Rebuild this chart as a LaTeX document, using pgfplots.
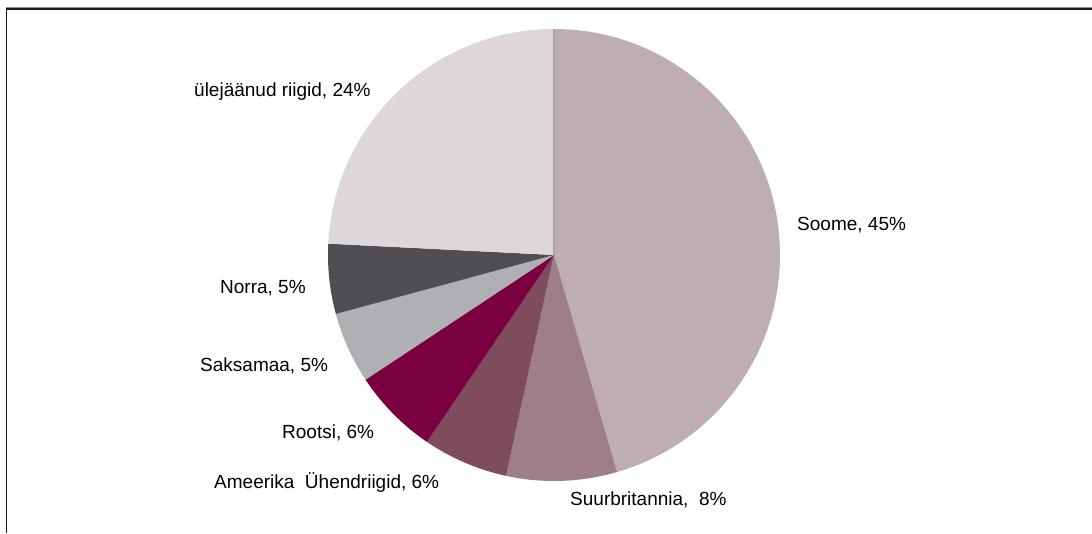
\documentclass[border=0pt]{standalone}
\usepackage{fontspec}
\setmainfont{Liberation Sans}
\usepackage{pgfplots}
\usepackage{pgfplotstable}
\pgfplotsset{compat=1.18}
\definecolor{cSoome}{HTML}{BEADB3}
\definecolor{cUK}{HTML}{9E7E88}
\definecolor{cUS}{HTML}{7F4C5E}
\definecolor{cSE}{HTML}{7B003F}
\definecolor{cDE}{HTML}{AFB0B3}
\definecolor{cNO}{HTML}{504E54}
\definecolor{cRest}{HTML}{DDD7DA}
\pgfplotstableread[col sep=comma]{
value,color
45.5,cSoome
7.9,cUK
6.1,cUS
6.2,cSE
5.1,cDE
5.0,cNO
24.2,cRest
}\piedata
\begin{document}
\fontsize{19bp}{23bp}\selectfont
\begin{tikzpicture}
\begin{axis}[hide axis, scale only axis, width=1092bp, height=533bp,
  xmin=0, xmax=1092, ymin=0, ymax=533, clip=false]
\pgfplotstablegetrowsof{\piedata}
\pgfmathtruncatemacro{\nrows}{\pgfplotsretval-1}
\def\cum{0}
\pgfplotsforeachungrouped \i in {0,...,\nrows}{%
  \pgfplotstablegetelem{\i}{value}\of{\piedata}\let\v\pgfplotsretval
  \pgfplotstablegetelem{\i}{color}\of{\piedata}\let\c\pgfplotsretval
  \pgfmathsetmacro{\astart}{90-3.6*\cum}%
  \pgfmathsetmacro{\aend}{90-3.6*(\cum+\v)}%
  \edef\temp{\noexpand\fill[\c] (axis cs:554,278) -- ++(\astart:226bp) arc[start angle=\astart, end angle=\aend, radius=226bp] -- cycle;}%
  \temp
  \pgfmathsetmacro{\cum}{\cum+\v}%
}
\draw[black!35, line width=1.2bp] (axis cs:554,278) -- (axis cs:554,504);
% frame
\draw[black!45, line width=1bp] (axis cs:6,525.5) -- (axis cs:1092,525.5);
\draw[black!90, line width=1.6bp] (axis cs:6.5,0) -- (axis cs:6.5,524) -- (axis cs:1092,524);
% labels
\begin{scope}[every node/.style={anchor=west, inner sep=0pt, font=\fontsize{19bp}{23bp}\selectfont}]
\node at (axis cs:797,308) {Soome, 45\%};
\node at (axis cs:570,33) {Suurbritannia,\ \ 8\%};
\node at (axis cs:214,50) {Ameerika\ \ Ühendriigid, 6\%};
\node at (axis cs:282,100) {Rootsi, 6\%};
\node at (axis cs:200,167) {Saksamaa, 5\%};
\node at (axis cs:220,245) {Norra, 5\%};
\node at (axis cs:194,441) {ülejäänud riigid, 24\%};
\end{scope}
\end{axis}
\pgfresetboundingbox
\useasboundingbox (current axis.south west) rectangle (current axis.north east);
\end{tikzpicture}
\end{document}
